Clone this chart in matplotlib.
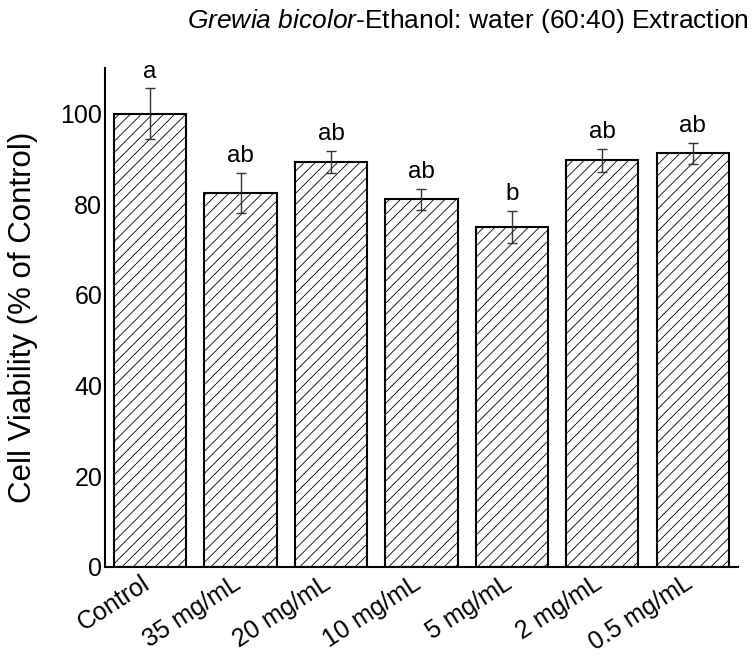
import matplotlib
matplotlib.use('Agg')
import matplotlib.pyplot as plt
import matplotlib.transforms as mtransforms
import numpy as np

plt.rcParams['font.family'] = ['Liberation Sans', 'DejaVu Sans']
plt.rcParams['mathtext.fontset'] = 'custom'
plt.rcParams['mathtext.rm'] = 'Liberation Sans'
plt.rcParams['mathtext.it'] = 'Liberation Sans:italic'
plt.rcParams['hatch.linewidth'] = 0.6

# data
groups = ['Control', '35 mg/mL', '20 mg/mL', '10 mg/mL', '5 mg/mL', '2 mg/mL', '0.5 mg/mL']
viability = [100.0, 82.5, 89.4, 81.1, 75.0, 89.7, 91.2]
errors = [5.6, 4.4, 2.4, 2.3, 3.6, 2.5, 2.3]
letters = ['a', 'ab', 'ab', 'ab', 'b', 'ab', 'ab']

fig = plt.figure(figsize=(7.53, 6.56), dpi=100)
ax = fig.add_axes([0.1394, 0.1357, 0.8406, 0.7603])

x = np.arange(len(groups))
ax.bar(x, viability, width=0.8, color='white', edgecolor='black',
       linewidth=1.5, hatch='///')
ax.errorbar(x, viability, yerr=errors, fmt='none', ecolor='#333333',
            elinewidth=1.0, capsize=3.5, capthick=1.0)

for xi, v, e, lab in zip(x, viability, errors, letters):
    ax.annotate(lab, (xi, v + e), xytext=(0, 4), textcoords='offset points',
                ha='center', va='bottom', fontsize=17.5)

ax.set_xlim(-0.5, 6.5)
ax.set_ylim(0, 110)
ax.set_yticks([0, 20, 40, 60, 80, 100])
ax.set_xticks(x)
ax.set_xticklabels(groups, rotation=33, ha='right', fontsize=18)
ax.tick_params(axis='y', length=0, labelsize=18, pad=2)
ax.tick_params(axis='x', length=0, pad=3)
# nudge x labels slightly to the right
offset = mtransforms.ScaledTranslation(4 / 100, 0, fig.dpi_scale_trans)
for lbl in ax.get_xticklabels():
    lbl.set_transform(lbl.get_transform() + offset)

for s in ['top', 'right']:
    ax.spines[s].set_visible(False)
for s in ['left', 'bottom']:
    ax.spines[s].set_linewidth(1.5)

ax.set_ylabel('Cell Viability (% of Control)', fontsize=22.5, labelpad=16)

fig.text(0.994, 0.968, r'$\it{Grewia\ bicolor}$-Ethanol: water (60:40) Extraction',
         ha='right', va='center', fontsize=19)

fig.savefig('out.png', dpi=100)
